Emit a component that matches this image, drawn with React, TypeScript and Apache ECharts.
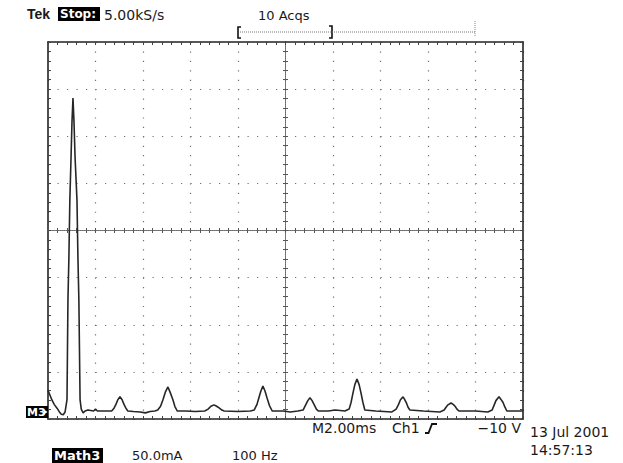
import React, { useEffect, useRef } from "react";
import * as echarts from "echarts";

// FFT spectrum (Math3), frequency in Hz, amplitude in mA
const spectrumHz = [
  0, 4, 8, 13, 19, 24, 28, 32, 36, 40, 42, 44, 46, 48.5, 50.5, 52.6, 54.7, 57, 61, 63, 65, 67.5, 70, 74, 78, 84,
  90, 96, 100, 104, 113, 125, 134, 139, 143, 147, 151.5, 156, 160, 164, 168, 180, 194, 205, 215, 225, 231, 237,
  242, 247, 252.5, 257, 263, 267, 272, 290, 310, 330, 337, 343, 349.5, 355, 361, 366, 371, 400, 426, 434, 440,
  444, 448, 452.5, 457, 461, 466, 472, 495, 510, 526, 537, 543, 547, 551.5, 556, 560, 565, 569, 590, 605, 625,
  634, 638, 642, 646, 650.5, 655, 659, 663, 667, 690, 724, 733, 738, 742, 747.5, 751, 755, 758, 762, 790, 825,
  834, 838, 842, 848.5, 853, 857, 861, 865, 900, 926, 935, 939, 943, 949.5, 954, 958, 962, 966, 985, 1000,
];
const spectrumMA = [
  23, 18, 13, 8, 4, 0, -2.5, -3, 0, 13, 119, 164, 225, 270, 308, 333, 308, 270, 225, 164, 119, 13, 3, -1, 1, 2,
  1.5, 1, 3, 1, 1, 1, 1, 4, 8, 13, 16, 13, 8, 4, 1, 0.5, 0, -1, 0.5, 1, 2, 6,
  13, 21, 26.5, 21, 13, 6, 1, 1, 0.5, 1, 3, 6, 7.5, 6, 4, 2, 1, 0.5, 1, 2, 8,
  15, 22, 27.5, 22, 15, 7, 1, 1, 0, 1, 2, 8, 12, 15, 12, 8, 3, 1, 1, 2, 1,
  3, 10, 20, 29, 35, 29, 20, 10, 2, 1, 0, 3, 8, 13, 16, 13, 9, 5, 2, 1, 0,
  2, 5, 7.5, 9.5, 8, 6, 3, 1, 1, 0, 2, 7, 12, 16, 13, 10, 5, 1, 1, 1,
];

const headerLeft = ["Tek", "Stop:", "5.00kS/s"];
const headerAcq = "10 Acqs";
const footerRow1 = ["M2.00ms", "Ch1", "\u221210 V"];
const dateLines = ["13 Jul 2001", "14:57:13"];
const footerRow2 = ["Math3", "50.0mA", "100 Hz"];
const markerLabel = "M3";

const INK = "#1a1a1a";
const FONT = '"DejaVu Sans"';

export default function App() {
  const ref = useRef<HTMLDivElement>(null);

  useEffect(() => {
    if (!ref.current) return;
    const chart = echarts.init(ref.current, undefined, { renderer: "svg" });

    const noLabel = { show: false };
    const borderAxis = (position: string, max: number) => ({
      type: "value",
      position,
      min: 0,
      max,
      interval: 1,
      axisLine: { show: true, onZero: false, lineStyle: { color: "#222", width: 1.6 } },
      axisTick: { show: true, inside: true, length: 3, lineStyle: { color: "#444", width: 1 } },
      axisLabel: noLabel,
      splitLine: { show: false },
    });
    const centerAxis = (position: string, half: number) => ({
      type: "value",
      position,
      min: -half,
      max: half,
      interval: 1,
      axisLine: {
        show: true,
        onZero: true,
        onZeroAxisIndex: 1,
        lineStyle: { color: "#6a6a6a", width: 1, type: [1, 1] },
      },
      axisTick: { show: true, inside: false, length: 2.5, lineStyle: { color: "#555", width: 1 } },
      axisLabel: noLabel,
      splitLine: { show: false },
    });

    const data = spectrumHz.map((f, i) => [f, spectrumMA[i]]);

    const txt = (text: string, x: number, y: number, font: string, fill = INK, align = "left") => ({
      type: "text",
      x,
      y,
      style: { text, font, fill, align, verticalAlign: "middle" },
      z: 10,
    });

    chart.setOption({
      animation: false,
      backgroundColor: "#ffffff",
      grid: { left: 48, top: 42, width: 475, height: 377, containLabel: false },
      xAxis: [
        { type: "value", min: 0, max: 1000, show: false },
        {
          type: "value",
          min: -5,
          max: 5,
          interval: 1,
          axisLine: { show: false, onZero: false },
          axisTick: { show: false },
          axisLabel: noLabel,
          splitLine: { show: true, lineStyle: { color: "#707070", width: 1.2, type: [1.2, 8.225] } },
        },
        borderAxis("bottom", 50),
        borderAxis("top", 50),
        centerAxis("bottom", 25),
        centerAxis("top", 25),
      ],
      yAxis: [
        { type: "value", min: -7.5, max: 392.5, show: false },
        {
          type: "value",
          min: -4,
          max: 4,
          interval: 1,
          axisLine: { show: false, onZero: false },
          axisTick: { show: false },
          axisLabel: noLabel,
          splitLine: { show: true, lineStyle: { color: "#707070", width: 1.2, type: [1.2, 8.3] } },
        },
        borderAxis("left", 40),
        borderAxis("right", 40),
        centerAxis("left", 20),
        centerAxis("right", 20),
      ],
      series: [
        {
          type: "line",
          xAxisIndex: 0,
          yAxisIndex: 0,
          data,
          symbol: "none",
          z: 5,
          lineStyle: { color: "#262626", width: 1.6 },
        },
      ],
      graphic: [
        txt(headerLeft[0], 27, 14, `bold 14px "Liberation Sans"`),
        { type: "rect", shape: { x: 58, y: 7, width: 42, height: 14 }, style: { fill: "#000" }, z: 9 },
        txt(headerLeft[1], 60, 14, `bold 12px ${FONT}`, "#fff"),
        txt(headerLeft[2], 104, 14.5, `14px ${FONT}`),
        txt(headerAcq, 258, 15, `13px ${FONT}`),
        {
          type: "polyline",
          shape: { points: [[241, 27], [238, 27], [238, 38], [241, 38]] },
          style: { stroke: "#111", lineWidth: 1.6, fill: null },
          z: 9,
        },
        {
          type: "polyline",
          shape: { points: [[329, 26], [332, 26], [332, 38], [329, 38]] },
          style: { stroke: "#111", lineWidth: 1.6, fill: null },
          z: 9,
        },
        {
          type: "line",
          shape: { x1: 240, y1: 32, x2: 475, y2: 32 },
          style: { stroke: "#777", lineWidth: 1, lineDash: [1, 1] },
          z: 9,
        },
        {
          type: "line",
          shape: { x1: 475, y1: 21, x2: 475, y2: 37 },
          style: { stroke: "#888", lineWidth: 1, lineDash: [1, 1] },
          z: 9,
        },
        { type: "rect", shape: { x: 26, y: 406, width: 22, height: 12 }, style: { fill: "#000" }, z: 9 },
        txt(markerLabel, 27, 412, `bold 11px ${FONT}`, "#fff"),
        {
          type: "polygon",
          shape: { points: [[44, 409.5], [47.5, 412], [44, 414.5]] },
          style: { fill: "#fff" },
          z: 11,
        },
        txt(footerRow1[0], 312, 428, `14px ${FONT}`),
        txt(footerRow1[1], 392, 428, `14px ${FONT}`),
        {
          type: "polyline",
          shape: { points: [[425, 433], [428.5, 433], [432, 424], [437, 424]] },
          style: { stroke: "#111", lineWidth: 1.8, fill: null },
          z: 9,
        },
        txt(footerRow1[2], 521, 428, `14px ${FONT}`, INK, "right"),
        txt(dateLines[0], 530, 432, `14px ${FONT}`),
        txt(dateLines[1], 530, 450, `14px ${FONT}`),
        { type: "rect", shape: { x: 52, y: 448, width: 51, height: 15 }, style: { fill: "#000" }, z: 9 },
        txt(footerRow2[0], 54, 455, `bold 13px ${FONT}`, "#fff"),
        txt(footerRow2[1], 132, 455, `13px ${FONT}`),
        txt(footerRow2[2], 232, 455, `13px ${FONT}`),
      ],
    });

    return () => chart.dispose();
  }, []);

  return (
    <div
      ref={ref}
      style={{ position: "absolute", left: 0, top: 0, width: 623, height: 463, background: "#fff" }}
    />
  );
}
